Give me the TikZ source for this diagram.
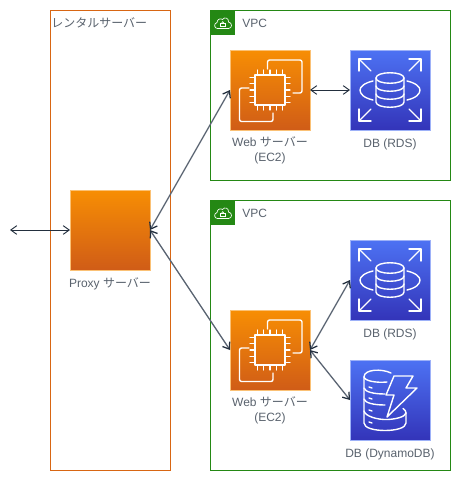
\documentclass[tikz,border=0pt]{standalone}
\usepackage{fontspec}
\setmainfont{Liberation Sans}
\newfontfamily\cjk{Noto Sans CJK JP}
\usetikzlibrary{arrows.meta}
\definecolor{inkdark}{HTML}{232F3E}
\definecolor{inkgray}{HTML}{5A6472}
\definecolor{vpcgreen}{HTML}{248814}
\definecolor{rentorange}{HTML}{D86613}
\definecolor{orangetop}{HTML}{F78E04}
\definecolor{orangebot}{HTML}{D05C17}
\definecolor{bluetop}{HTML}{4D72F3}
\definecolor{bluebot}{HTML}{3334B9}
\tikzset{
  x=0.75pt,y=-0.75pt,
  iconbox/.style={minimum size=60pt,inner sep=0pt,outer sep=0pt,shade,shading angle=0},
  orangebox/.style={iconbox,top color=orangetop,bottom color=orangebot,draw=orangetop!55!white,line width=0.6pt},
  bluebox/.style={iconbox,top color=bluetop,bottom color=bluebot,draw=bluetop!55!white,line width=0.6pt},
  glyph/.style={draw=white,line width=1.05pt,line cap=round,line join=round,fill=none},
  lbl/.style={font=\fontsize{9}{11.25}\selectfont,text=inkdark!75!white,align=center,inner sep=0pt},
  group/.style={draw,fill=white,line width=0.75pt,inner sep=0pt,outer sep=0pt},
  link/.style={line width=0.95pt,draw=inkgray,{Straight Barb[length=4.5pt,width=6.5pt,color=inkdark]}-{Straight Barb[length=4.5pt,width=6.5pt,color=inkdark]}},
  linkdark/.style={link,draw=inkdark,line width=0.7pt},
}
\newcommand{\chipicon}[1]{%
  \begin{scope}[shift={(#1.north west)}]
    \draw[glyph] (25,25) rectangle (55,55);
    \foreach \p in {27.5,33.5,40,46.5,52.5}{
      \draw[glyph,line width=0.8pt] (\p,25) -- (\p,20);
      \draw[glyph,line width=0.8pt] (\p,55) -- (\p,60);
      \draw[glyph,line width=0.8pt] (25,\p) -- (20,\p);
      \draw[glyph,line width=0.8pt] (55,\p) -- (60,\p);
    }
    \draw[glyph,rounded corners=1.5pt] (37.5,19) -- (37.5,10) -- (72,10) -- (72,43) -- (63,43);
    \draw[glyph,rounded corners=1.5pt] (19,38) -- (9.5,38) -- (9.5,71.5) -- (43,71.5) -- (43,63);
  \end{scope}}
\newcommand{\rdsicon}[1]{%
  \begin{scope}[shift={(#1.north west)}]
    \foreach \sx/\sy/\cx/\cy in {1/1/9/9,-1/1/71/9,1/-1/9/71,-1/-1/71/71}{
      \begin{scope}[shift={(\cx,\cy)},xscale=\sx,yscale=\sy]
        \draw[glyph] (12,0) -- (0,0) -- (0,12);
        \draw[glyph] (0,0) -- (12,12);
      \end{scope}
    }
    \draw[glyph] (26,28) .. controls (26,21) and (54,21) .. (54,28) -- (54,52) .. controls (54,59) and (26,59) .. (26,52) -- cycle;
    \draw[glyph] (26,28) .. controls (26,35) and (54,35) .. (54,28);
    \draw[glyph] (26,36) .. controls (26,43) and (54,43) .. (54,36);
    \draw[glyph] (26,44) .. controls (26,51) and (54,51) .. (54,44);
    \draw[glyph] (23,31) .. controls (14,33) and (10,37) .. (10,40) .. controls (10,44) and (14,48) .. (23,50);
    \draw[glyph] (57,31) .. controls (66,33) and (70,37) .. (70,40) .. controls (70,44) and (66,48) .. (57,50);
  \end{scope}}
\newcommand{\dynamoicon}[1]{%
  \begin{scope}[shift={(#1.north west)}]
    \draw[glyph] (41,13) .. controls (32,8.5) and (14,9) .. (14,17) -- (14,63) .. controls (14,73) and (56,73) .. (56,63) -- (56,53) .. controls (56,51) and (55,50) .. (53,48.5);
    \draw[glyph] (14,17) .. controls (15,21) and (26,23) .. (37,22);
    \draw[glyph] (14,28) .. controls (15,32) and (24,34) .. (35,34);
    \draw[glyph] (14,39) .. controls (15,43) and (24,45) .. (35,45);
    \draw[glyph] (14,51) .. controls (15,56) and (27,60) .. (38,59.5) .. controls (46,59) and (55,57) .. (56,53);
    \draw[glyph] (19,27) -- (22,28);
    \draw[glyph] (19,38) -- (22,39);
    \draw[glyph] (19,50) -- (22,51);
    \draw[glyph] (19,62) -- (22,63);
    \draw[glyph] (44,16) -- (63,16) -- (56,28) -- (67,28) -- (37,57) -- (44,35) -- (36,35) -- cycle;
  \end{scope}}
\newcommand{\vpctab}[1]{%
  \node[fill=vpcgreen,minimum size=18.75pt,inner sep=0pt,outer sep=0pt,anchor=north west] (#1tab) at (#1.north west) {};
  \begin{scope}[shift={(#1.north west)}]
    \draw[draw=white,line width=0.5pt,line join=round] (7.5,18.5) .. controls (4,18.5) and (3.5,13.5) .. (7,12.5) .. controls (7,9) and (11,8) .. (12.5,9.5) .. controls (14.5,6.5) and (19,8) .. (18.5,12) .. controls (22.5,12.5) and (22.5,18.5) .. (18.5,18.5) -- cycle;
    \draw[draw=white,line width=0.45pt] (10.5,13.5) rectangle (15,16.5);
    \draw[draw=white,line width=0.45pt] (11.3,13.5) .. controls (11.3,11) and (14.2,11) .. (14.2,13.5);
  \end{scope}}
\begin{document}
\begin{tikzpicture}
\useasboundingbox (0,0) rectangle (462,482);
% groups
\node[group,draw=rentorange,minimum width=90pt,minimum height=345pt,anchor=north west] (rental) at (50,10) {};
\node[group,draw=vpcgreen,minimum width=180pt,minimum height=127.5pt,anchor=north west] (vpca) at (210,10) {};
\node[group,draw=vpcgreen,minimum width=180pt,minimum height=202.5pt,anchor=north west] (vpcb) at (210,200) {};
\vpctab{vpca}
\vpctab{vpcb}
\node[lbl,anchor=west] (rentallabel) at (51,23) {\cjk レンタルサーバー};
\node[lbl,anchor=west] (vpcalabel) at (242,23) {VPC};
\node[lbl,anchor=west] (vpcblabel) at (242,213) {VPC};
% icons
\node[orangebox] (proxy) at (110,230) {};
\node[orangebox] (weba) at (270,90) {};
\node[bluebox] (rdsa) at (390,90) {};
\node[orangebox] (webb) at (270,350) {};
\node[bluebox] (rdsb) at (390,280) {};
\node[bluebox] (dyn) at (390,400) {};
\chipicon{weba}
\chipicon{webb}
\rdsicon{rdsa}
\rdsicon{rdsb}
\dynamoicon{dyn}
% labels
\node[lbl] (proxylabel) at (110,284) {Proxy {\cjk サーバー}};
\node[lbl] (webalabel) at (270,150.5) {Web {\cjk サーバー}\\(EC2)};
\node[lbl] (rdsalabel) at (390,144) {DB (RDS)};
\node[lbl] (webblabel) at (270,410.5) {Web {\cjk サーバー}\\(EC2)};
\node[lbl] (rdsblabel) at (390,334) {DB (RDS)};
\node[lbl] (dynlabel) at (390,454) {DB (DynamoDB)};
% connectors
\coordinate (outside) at (10,230);
\draw[linkdark] (outside) -- (proxy.west);
\draw[link] (proxy.east) -- (weba.west);
\draw[link] (proxy.east) -- (webb.west);
\draw[linkdark] (weba.east) -- (rdsa.west);
\draw[link] (webb.east) -- (rdsb.west);
\draw[link] (webb.east) -- (dyn.west);
\end{tikzpicture}
\end{document}
